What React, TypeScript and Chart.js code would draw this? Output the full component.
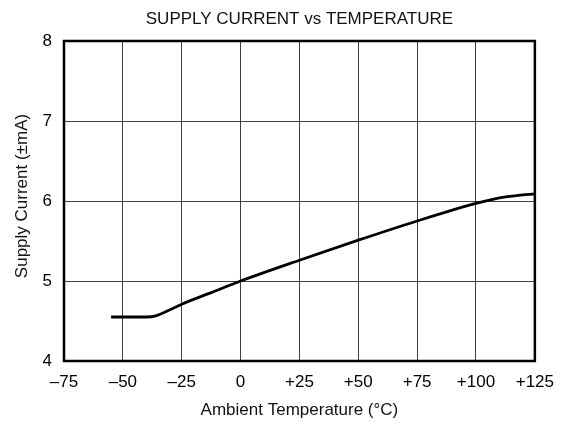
import React, { useEffect, useRef } from "react";
import { Chart, registerables } from "chart.js";

Chart.register(...registerables);

const temperatures = [-55, -40, -36, -30, -25, -12.5, 0, 25, 50, 75, 100, 110, 118, 125];
const supplyCurrent = [4.55, 4.55, 4.565, 4.64, 4.71, 4.855, 5.0, 5.26, 5.51, 5.75, 5.97, 6.04, 6.07, 6.09];
const xTickValues = [-75, -50, -25, 0, 25, 50, 75, 100, 125];
const xTickLabels = ["\u201375", "\u201350", "\u201325", "0", "+25", "+50", "+75", "+100", "+125"];
const yTickValues = [4, 5, 6, 7, 8];
const chartTitle = "SUPPLY CURRENT vs TEMPERATURE";
const yTitle = "Supply Current (\u00B1mA)";
const xTitle = "Ambient Temperature (\u00B0C)";

const FONT = "Arial, 'Liberation Sans', Helvetica, sans-serif";

const decorPlugin = {
  id: "decor",
  afterDraw(chart: any) {
    const { ctx, chartArea } = chart;
    const cx = (chartArea.left + chartArea.right) / 2;
    const cy = (chartArea.top + chartArea.bottom) / 2;
    ctx.save();
    ctx.strokeStyle = "#000";
    ctx.lineWidth = 2.5;
    ctx.strokeRect(chartArea.left, chartArea.top, chartArea.right - chartArea.left, chartArea.bottom - chartArea.top);
    ctx.fillStyle = "#111";
    ctx.font = `17px ${FONT}`;
    ctx.textAlign = "center";
    ctx.textBaseline = "middle";
    ctx.fillText(chartTitle, cx, 19.5);
    ctx.save();
    ctx.translate(22.5, cy - 5);
    ctx.rotate(-Math.PI / 2);
    ctx.fillText(yTitle, 0, 0);
    ctx.restore();
    ctx.restore();
  },
};

export default function App() {
  const ref = useRef<HTMLCanvasElement | null>(null);
  useEffect(() => {
    if (!ref.current) return;
    const chart = new Chart(ref.current, {
      type: "line",
      data: {
        datasets: [
          {
            data: temperatures.map((t, i) => ({ x: t, y: supplyCurrent[i] })),
            borderColor: "#000",
            borderWidth: 2.8,
            pointRadius: 0,
            cubicInterpolationMode: "monotone",
            fill: false,
          },
        ],
      },
      options: {
        animation: false,
        responsive: false,
        maintainAspectRatio: false,
        layout: { padding: { left: 0, right: 29, top: 41, bottom: 0 } },
        plugins: {
          legend: { display: false },
          tooltip: { enabled: false },
          title: { display: false },
        },
        scales: {
          x: {
            type: "linear",
            min: -75,
            max: 125,
            afterBuildTicks: (scale: any) => {
              scale.ticks = xTickValues.map((v) => ({ value: v }));
            },
            afterFit: (scale: any) => {
              scale.height = 65;
            },
            ticks: {
              color: "#000",
              padding: 11,
              maxRotation: 0,
              autoSkip: false,
              font: { family: FONT, size: 17 },
              callback: (v: any) => {
                const i = xTickValues.indexOf(Number(v));
                return i >= 0 ? xTickLabels[i] : "";
              },
            },
            grid: { color: "rgba(0,0,0,0.75)", lineWidth: 1, drawTicks: false },
            border: { display: false },
            title: {
              display: true,
              text: xTitle,
              color: "#111",
              font: { family: FONT, size: 17, lineHeight: 1.2 },
              padding: { top: 0, bottom: 5 },
            },
          },
          y: {
            type: "linear",
            min: 4,
            max: 8,
            afterBuildTicks: (scale: any) => {
              scale.ticks = yTickValues.map((v) => ({ value: v }));
            },
            afterFit: (scale: any) => {
              scale.width = 64;
            },
            ticks: {
              color: "#000",
              padding: 12,
              font: { family: FONT, size: 17 },
              callback: (v: any) => String(v),
            },
            grid: { color: "rgba(0,0,0,0.75)", lineWidth: 1, drawTicks: false },
            border: { display: false },
            title: { display: false },
          },
        },
      },
      plugins: [decorPlugin],
    } as any);
    return () => chart.destroy();
  }, []);
  return (
    <div style={{ position: "fixed", left: 0, top: 0, width: 565, height: 426, background: "#fff" }}>
      <canvas ref={ref} width={565} height={426} style={{ width: 565, height: 426, display: "block" }} />
    </div>
  );
}
